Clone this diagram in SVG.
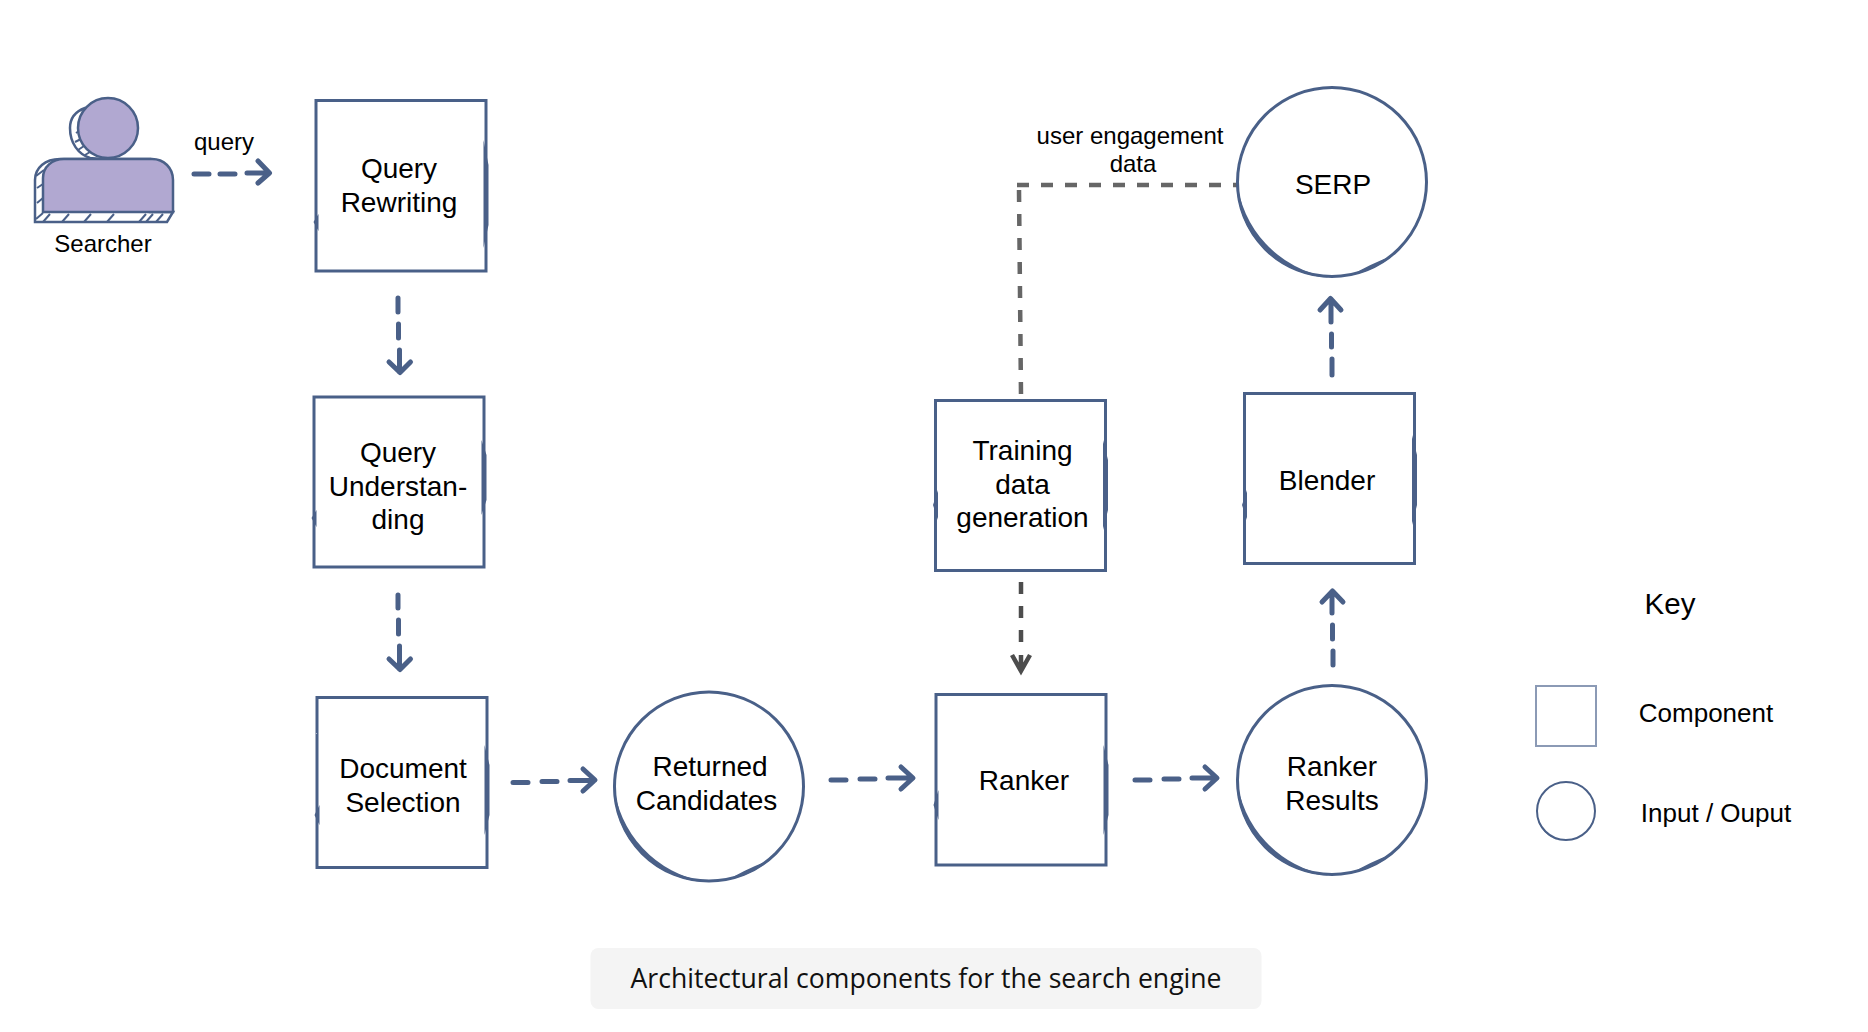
<svg xmlns="http://www.w3.org/2000/svg" width="1868" height="1032" viewBox="0 0 1868 1032">
<style>
text{font-family:"Liberation Sans",Arial,sans-serif;fill:#000;text-anchor:middle}
.t{font-size:28px}
.s{font-size:24px}
.k{font-size:26px}
.box{fill:#fff;stroke:#4a6088;stroke-width:3;filter:url(#rough)}
.lens{fill:#4a6088}
.circ{fill:#fff;stroke:#4a6088;stroke-width:3;filter:url(#rough)}
.a{fill:none;stroke:#4a6088;stroke-width:5;stroke-linecap:round;stroke-linejoin:round}
.g{fill:none;stroke:#666;stroke-width:4.500}
.g2{fill:none;stroke:#4d4d4d;stroke-width:4.500}
.p{fill:#b1a8d1;stroke:#4a6088;stroke-width:2.500}
.h{fill:#fff;stroke:#4a6088;stroke-width:2.500}
.tk{fill:none;stroke:#4a6088;stroke-width:2}
</style>
<defs>
<filter id="rough" x="-5%" y="-5%" width="110%" height="110%">
<feTurbulence type="fractalNoise" baseFrequency="0.25" numOctaves="2" seed="4"/>
<feDisplacementMap in="SourceGraphic" scale="1.200" xChannelSelector="R" yChannelSelector="G"/>
</filter>
<path id="crescent" class="lens" d="M-95.400,-3.300A95.500,95.500 0 0 0 -3.300,95.400A110.500,110.500 0 0 1 -95.400,-3.300ZM19,93.500A95.500,95.500 0 0 0 61,73.500Q38,82 19,93.500Z"/>
</defs>
<rect id="page" width="1868" height="1032" fill="#fff"/>
<g id="connectors">
<path class="a" d="M194,174H209M220,174H235M247,173H268M258,161L269.500,173L258,183"/>
<path class="a" d="M398,298V312M398.500,324V338M399.500,350V372M389,362L400,372.500L410.500,362"/>
<path class="a" d="M398,595V608M398.500,620V634M399.500,646V669M389,659L400,669.500L410.500,659"/>
<path class="a" d="M513,782.500H528M542,781.500H557M570,780.500H594M583,769L595,780L583,791"/>
<path class="a" d="M831,780H846M860,779H875M888,778H912M901,767L913,778L901,789"/>
<path class="a" d="M1135,780H1150M1164,779H1179M1192,778H1216M1205,767L1217,778L1205,789"/>
<path class="a" d="M1333,665V651M1332.500,639V625M1332,613V592M1322,602L1332.500,591L1343,602"/>
<path class="a" d="M1332,375V359M1331.500,347V334M1331,322V300M1320,310L1330.500,298.500L1341,310"/>
<path class="g" d="M1017,185H1237" stroke-dasharray="12 12"/>
<path class="g" d="M1019,190L1021,395" stroke-dasharray="12 12"/>
<path class="g2" d="M1021,582V594M1021,606V618M1021,630V642"/>
<path class="g2" d="M1012,655L1021,671L1030,655M1021,655V671" stroke-width="5.500"/>
</g>
<g id="searcher">
<path class="h" d="M85,108C74,112 70,120 70,128C70,143 78,154 90,158L108,160Z"/>
<path class="tk" d="M76,133L82,129M75,142L81,139M78,150L84,146M85,155L90,152"/>
<path class="h" d="M35,222V180C35,168 45,159 60,159H150V212H173L167,222Z"/>
<path class="tk" d="M36,176L44,170M37,188L43,184M37,203L43,198M36,219L43,213M43,222L50,214M62,222L69,214M84,222L91,214M107,222L114,214M139,222L146,214M146,222L153,214M156,222L163,214"/>
<circle class="p" cx="108" cy="128" r="30"/>
<path class="p" d="M43,212V178C43,167 52,159 64,159H152C164,159 173,168 173,180V212Z"/>
<text class="s" x="103" y="252">Searcher</text>
<text class="s" x="224" y="150">query</text>
</g>
<g id="query-rewriting">
<rect class="box" x="316" y="100.500" width="170" height="170.500"/>
<path class="lens" d="M483.500,140L488.500,165V225L483.500,248ZM313.500,222L318.500,214V231Z"/>
<text class="t" x="399" y="178">Query</text>
<text class="t" x="399" y="212">Rewriting</text>
</g>
<g id="query-understanding">
<rect class="box" x="314" y="397" width="170" height="170"/>
<path class="lens" d="M481.500,440L486.500,455V500L481.500,515ZM311.500,518L316.500,510V527Z"/>
<text class="t" x="398" y="462">Query</text>
<text class="t" x="398" y="496">Understan-</text>
<text class="t" x="398" y="529">ding</text>
</g>
<g id="document-selection">
<rect class="box" x="317" y="697.500" width="170" height="170"/>
<path class="lens" d="M484.500,745L489.500,765V815L484.500,835ZM314.500,815L319.500,805V825Z"/>
<text class="t" x="403" y="778">Document</text>
<text class="t" x="403" y="812">Selection</text>
</g>
<g id="returned-candidates">
<circle class="circ" cx="709" cy="786.500" r="94.500"/>
<use href="#crescent" x="709" y="786.500"/>
<text class="t" x="710" y="776">Returned</text>
<text class="t" x="706.500" y="810">Candidates</text>
</g>
<g id="ranker">
<rect class="box" x="936" y="694.500" width="170" height="170.500"/>
<path class="lens" d="M1103.500,745L1108.500,765V815L1103.500,835ZM933.500,805L938.500,790V820Z"/>
<text class="t" x="1024" y="790">Ranker</text>
</g>
<g id="training-data-generation">
<rect class="box" x="935.500" y="400.500" width="170" height="170"/>
<path class="lens" d="M1103,440L1108,460V510L1103,530ZM933,505L938,490V520Z"/>
<text class="t" x="1022.500" y="460">Training</text>
<text class="t" x="1022.500" y="494">data</text>
<text class="t" x="1022.500" y="527">generation</text>
</g>
<g id="blender">
<rect class="box" x="1244.500" y="393.500" width="170" height="170"/>
<path class="lens" d="M1412,435L1417,455V505L1412,525ZM1242,505L1247,490V520Z"/>
<text class="t" x="1327" y="490">Blender</text>
</g>
<g id="ranker-results">
<circle class="circ" cx="1332" cy="780" r="94.500"/>
<use href="#crescent" x="1332" y="780"/>
<text class="t" x="1332" y="776">Ranker</text>
<text class="t" x="1332" y="810">Results</text>
</g>
<g id="serp">
<circle class="circ" cx="1332" cy="182" r="94.500"/>
<use href="#crescent" x="1332" y="182"/>
<text class="t" x="1333" y="194">SERP</text>
</g>
<g id="edge-label">
<text class="s" x="1130" y="144">user engagement</text>
<text class="s" x="1133" y="172">data</text>
</g>
<g id="key">
<text x="1670" y="614" style="font-size:29.500px">Key</text>
<rect x="1536" y="686" width="60" height="60" fill="#fff" stroke="#8b9ab5" stroke-width="2"/>
<text class="k" x="1706" y="722">Component</text>
<circle cx="1566" cy="811" r="29" fill="#fff" stroke="#4a6088" stroke-width="2"/>
<path d="M1537,815A29.500,29.500 0 0 0 1560,840.500A32,32 0 0 1 1537,815Z" fill="#4a6088"/>
<text class="k" x="1716" y="822">Input / Ouput</text>
</g>
<g id="caption">
<rect x="590.500" y="948" width="671" height="61" rx="8" fill="#f4f4f4"/>
<text x="926" y="988" style="font-family:'Open Sans',sans-serif;font-size:26.600px;fill:#111">Architectural components for the search engine</text>
</g>
</svg>
